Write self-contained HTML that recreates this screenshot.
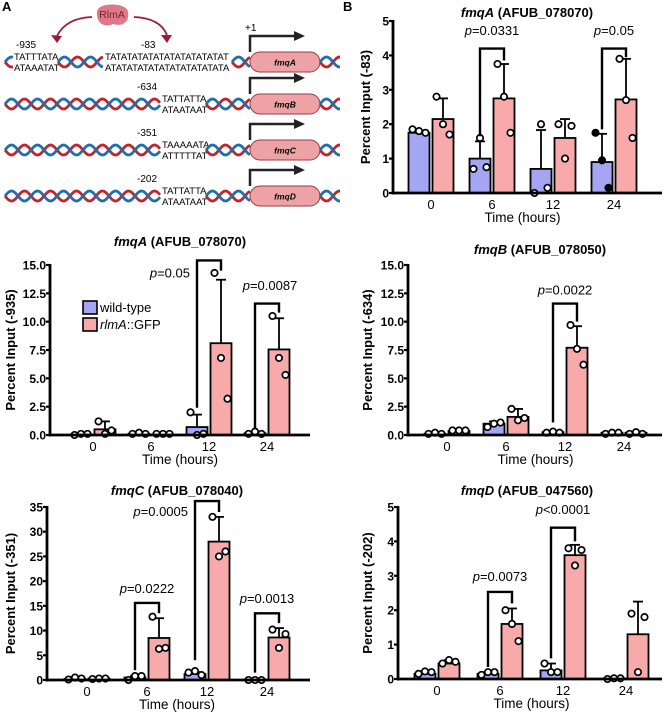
<!DOCTYPE html>
<html><head><meta charset="utf-8">
<style>
html,body{margin:0;padding:0;background:#fff;}
svg{display:block;font-family:"Liberation Sans",Arial,sans-serif;}
.tk{font-size:12px;font-weight:bold;}
.at{font-size:13px;font-weight:bold;}
.ttl{font-size:13px;font-weight:bold;}
.pv{font-size:13px;}
.seq{font-size:9.5px;}
</style></head>
<body>
<svg id="fig" width="667" height="718" viewBox="0 0 667 718">
<g id="panelA"></g>
<g id="charts"></g>
</svg>
<script>
// ---------- Chart data ----------
const categories = ["0","6","12","24"];

// B: fmqA -83
const b1WT = [1.75, 1.0, 0.7, 0.9];
const b1PK = [2.15, 2.75, 1.6, 2.72];
const b1WTErr = [1.78, 1.5, 1.83, 1.72];
const b1PKErr = [2.75, 3.75, 2.15, 3.9];
const b1WTPts = [[1.85,1.8,1.75],[0.7,1.6,0.75],[0.0,2.0,0.15],[1.75,0.95,0.15]];
const b1PKPts = [[2.8,2.0,1.7],[3.75,2.8,1.75],[2.0,1.0,1.95],[3.9,2.7,1.6]];
const b1Ticks = ["0","1","2","3","4","5"];

// A middle: fmqA -935
const a1WT = [0.05, 0.1, 0.7, 0.15];
const a1PK = [0.5, 0.05, 8.1, 7.55];
const a1WTErr = [0.1, 0.15, 1.8, 0.2];
const a1PKErr = [1.2, 0.1, 13.7, 10.3];
const a1WTPts = [[0.0,0.1,0.1],[0.1,0.2,0.1],[2.0,0.0,0.1],[0.1,0.3,0.1]];
const a1PKPts = [[1.2,0.1,0.4],[0.1,0.1,0.1],[14.3,6.8,3.2],[10.5,6.8,5.3]];
const a1Ticks = ["0.0","2.5","5.0","7.5","10.0","12.5","15.0"];

// B middle: fmqB -634
const b2WT = [0.1, 1.0, 0.25, 0.2];
const b2PK = [0.35, 1.6, 7.7, 0.2];
const b2WTErr = [0.15, 1.2, 0.3, 0.25];
const b2PKErr = [0.4, 2.3, 9.6, 0.25];
const b2WTPts = [[0.1,0.2,0.1],[0.7,1.0,1.1],[0.2,0.3,0.2],[0.1,0.2,0.2]];
const b2PKPts = [[0.4,0.4,0.4],[2.3,1.3,1.5],[9.7,7.6,6.2],[0.1,0.25,0.1]];
const b2Ticks = ["0.0","2.5","5.0","7.5","10.0","12.5","15.0"];

// C: fmqC -351
const cWT = [0.2, 0.5, 1.2, 0.1];
const cPK = [0.3, 8.5, 28, 8.6];
const cWTErr = [0.3, 0.8, 1.6, 0.1];
const cPKErr = [0.4, 12.5, 33, 10.5];
const cWTPts = [[0.1,0.5,0.3],[0.0,0.8,0.8],[1.5,1.8,1.0],[0.0,0.0,0.0]];
const cPKPts = [[0.2,0.3,0.3],[12.8,6.3,6.5],[33,25,26],[10.2,6.5,9.3]];
const cTicks = ["0","5","10","15","20","25","30","35"];

// D: fmqD -202
const dWT = [0.15, 0.15, 0.25, 0.02];
const dPK = [0.45, 1.6, 3.6, 1.3];
const dWTErr = [0.22, 0.2, 0.45, 0.03];
const dPKErr = [0.55, 2.05, 3.9, 2.25];
const dWTPts = [[0.15,0.22,0.2],[0.12,0.2,0.2],[0.45,0.2,0.2],[0.0,0.02,0.02]];
const dPKPts = [[0.45,0.55,0.5],[2.0,1.6,1.1],[3.8,3.3,3.75],[1.9,0.2,1.8]];
const dTicks = ["0","1","2","3","4","5"];

const NS = "http://www.w3.org/2000/svg";
function mk(tag, attrs, parent, text){
  const e = document.createElementNS(NS, tag);
  for (const k in attrs) e.setAttribute(k, attrs[k]);
  if (text !== undefined) e.textContent = text;
  parent.appendChild(e);
  return e;
}
const root = document.getElementById('charts');

function chart(cfg){
  const g = mk('g', {}, root);
  
  
  const ymax = cfg.ymax;
  const Y = v => cfg.y0 - (v / ymax) * (cfg.y0 - cfg.yTop);
  const X = i => cfg.x0 + i * cfg.step;
  const bw = cfg.bw;
  categories.forEach((c, i) => {
    const cx = X(i);
    [[cfg.wt, cfg.wtErr, cfg.wtPts, '#a4a6f4', -1, cfg.filled], [cfg.pk, cfg.pkErr, cfg.pkPts, '#f7aaa9', 1, null]].forEach(s => {
      const [vals, errs, pts, col, side, filled] = s;
      const bx = side < 0 ? cx - bw - 1.5 : cx + 1.5;
      const bcx = bx + bw / 2;
      const r = mk('rect', {x: bx, y: Y(vals[i]), width: bw, height: Math.max(0, cfg.y0 - Y(vals[i])), fill: col, stroke: '#000', 'stroke-width': 1.8}, g);
      
      
      const e1 = mk('line', {x1: bcx, x2: bcx, y1: Y(vals[i]), y2: Y(errs[i]), stroke: '#000', 'stroke-width': 1.8}, g);
      
      
      mk('line', {x1: bcx - 5, x2: bcx + 5, y1: Y(errs[i]), y2: Y(errs[i]), stroke: '#000', 'stroke-width': 1.8}, g);
      pts[i].forEach((p, k) => {
        const isF = filled && filled[i];
        const pt = mk('circle', {cx: bcx + (k - 1) * 6.5, cy: Y(p), r: 3.2, fill: isF ? '#000' : '#fff', stroke: '#000', 'stroke-width': 1.7}, g);
        
        
      });
    });
    const tl = mk('text', {x: cx, y: cfg.y0 + 16, 'text-anchor': 'middle', style: 'font-size:13px'}, g, c);
    
    
  });
  const ya = mk('line', {x1: cfg.yx, x2: cfg.yx, y1: cfg.yTop - 1, y2: cfg.y0 + 1.5, stroke: '#000', 'stroke-width': 2.8}, g);
  
  
  const xa = mk('line', {x1: cfg.yx - 1, x2: cfg.xEnd, y1: cfg.y0, y2: cfg.y0, stroke: '#000', 'stroke-width': 2.8}, g);
  
  
  cfg.ticks.forEach((t, k) => {
    const v = k * cfg.tstep;
    mk('line', {x1: cfg.yx - 4, x2: cfg.yx, y1: Y(v), y2: Y(v), stroke: '#000', 'stroke-width': 2.2}, g);
    const tt = mk('text', {x: cfg.yx - 4, y: Y(v) + 4.5, 'text-anchor': 'end', class: 'tk'}, g, t);
    
    
  });
  const cyT = (cfg.y0 + cfg.yTop) / 2;
  const yt = mk('text', {x: cfg.ytx, y: cyT, 'text-anchor': 'middle', class: 'at', transform: `rotate(-90 ${cfg.ytx} ${cyT})`}, g, cfg.ytitle);
  
  
  const xt = mk('text', {x: (X(0) + X(3)) / 2, y: cfg.y0 + 29, 'text-anchor': 'middle', style: 'font-size:13.5px'}, g, 'Time (hours)');
  
  
  const ti = mk('text', {x: cfg.tx, y: cfg.ty, 'text-anchor': 'middle', class: 'ttl'}, g);
  
  
  mk('tspan', {'font-style': 'italic'}, ti, cfg.gene);
  mk('tspan', {}, ti, ' ' + cfg.locus);
  cfg.brackets.forEach(b => {
    const lx = X(b.i) - bw / 2 - 1.5, rx = X(b.i) + bw / 2 + 1.5;
    const br = mk('polyline', {points: `${lx},${Y(b.l)} ${lx},${Y(b.top)} ${rx},${Y(b.top)} ${rx},${Y(b.r)}`, fill: 'none', stroke: '#000', 'stroke-width': 2.4}, g);
    
    
    const px = b.tx !== undefined ? b.tx : X(b.i);
    const pt = mk('text', {x: px, y: Y(b.ty), 'text-anchor': b.anchor || 'middle', class: 'pv'}, g);
    
    
    mk('tspan', {'font-style': 'italic'}, pt, 'p');
    mk('tspan', {}, pt, b.txt);
  });
  return g;
}

chart({name:'chart-fmqa-83', x0:431, step:61, bw:21, yx:393, y0:193, yTop:21, xEnd:662, ymax:5, tstep:1, ticks:b1Ticks,
  wt:b1WT, pk:b1PK, wtErr:b1WTErr, pkErr:b1PKErr, wtPts:b1WTPts, pkPts:b1PKPts, filled:[false,false,false,true],
  ytitle:'Percent Input (-83)', ytx:370, gene:'fmqA', locus:'(AFUB_078070)', tx:527, ty:17,
  brackets:[{i:1,top:4.2,l:1.65,r:3.85,ty:4.6,txt:'=0.0331'},{i:3,top:4.2,l:1.85,r:3.95,ty:4.6,txt:'=0.05'}]});

chart({name:'chart-fmqa-935', x0:93, step:58, bw:21, yx:50, y0:435, yTop:265, xEnd:310, ymax:15, tstep:2.5, ticks:a1Ticks,
  wt:a1WT, pk:a1PK, wtErr:a1WTErr, pkErr:a1PKErr, wtPts:a1WTPts, pkPts:a1PKPts,
  ytitle:'Percent Input (-935)', ytx:15, gene:'fmqA', locus:'(AFUB_078070)', tx:180, ty:246,
  brackets:[{i:2,top:15.4,l:2.4,r:14.5,ty:13.9,txt:'=0.05',tx:190,anchor:'end'},{i:3,top:11.6,l:0.5,r:10.8,ty:12.8,txt:'=0.0087',tx:270}]});

chart({name:'chart-fmqb-634', x0:447, step:59, bw:21, yx:408, y0:435, yTop:265, xEnd:662, ymax:15, tstep:2.5, ticks:b2Ticks,
  wt:b2WT, pk:b2PK, wtErr:b2WTErr, pkErr:b2PKErr, wtPts:b2WTPts, pkPts:b2PKPts,
  ytitle:'Percent Input (-634)', ytx:372, gene:'fmqB', locus:'(AFUB_078050)', tx:540, ty:254,
  brackets:[{i:2,top:11.6,l:1.1,r:10.0,ty:12.4,txt:'=0.0022'}]});

chart({name:'chart-fmqc-351', x0:87, step:60, bw:21, yx:47, y0:680, yTop:507, xEnd:310, ymax:35, tstep:5, ticks:cTicks,
  wt:cWT, pk:cPK, wtErr:cWTErr, pkErr:cPKErr, wtPts:cWTPts, pkPts:cPKPts,
  ytitle:'Percent Input (-351)', ytx:15, gene:'fmqC', locus:'(AFUB_078040)', tx:177, ty:495,
  brackets:[{i:1,top:15.6,l:2.0,r:13.5,ty:17.6,txt:'=0.0222'},{i:2,top:36.2,l:4.0,r:34,ty:33.2,txt:'=0.0005',tx:188,anchor:'end'},{i:3,top:13.5,l:1.5,r:11.5,ty:15.6,txt:'=0.0013'}]});

chart({name:'chart-fmqd-202', x0:437, step:63, bw:21, yx:398, y0:679, yTop:507, xEnd:662, ymax:5, tstep:1, ticks:dTicks,
  wt:dWT, pk:dPK, wtErr:dWTErr, pkErr:dPKErr, wtPts:dWTPts, pkPts:dPKPts,
  ytitle:'Percent Input (-202)', ytx:372, gene:'fmqD', locus:'(AFUB_047560)', tx:527, ty:495,
  brackets:[{i:1,top:2.53,l:0.35,r:2.2,ty:2.85,txt:'=0.0073'},{i:2,top:4.4,l:0.6,r:4.0,ty:4.8,txt:'<0.0001'}]});

(function(){
  const g = mk('g', {}, root);
  
  
  const l1 = mk('rect', {x:83, y:301, width:14, height:13, fill:'#a4a6f4', stroke:'#000', 'stroke-width':1.6}, g);
  
  
  mk('text', {x:100, y:312, style:'font-size:13px'}, g, 'wild-type');
  const l2 = mk('rect', {x:83, y:318, width:14, height:13, fill:'#f7aaa9', stroke:'#000', 'stroke-width':1.6}, g);
  
  
  const t = mk('text', {x:100, y:329, style:'font-size:13px'}, g);
  mk('tspan', {'font-style':'italic'}, t, 'rlmA');
  mk('tspan', {}, t, '::GFP');
})();

[['A',2,11],['B',343,11]].forEach(a => {
  const t = mk('text', {x:a[1], y:a[2], style:'font-size:13px;font-weight:bold'}, root, a[0]);
  
  
});

// ---------- Panel A diagram ----------
const A = document.getElementById('panelA');
function helix(x1, x2, yc){
  const amp = 5, half = 13;
  ['#c0252f', '#1f6fa8'].forEach((col, s) => {
    let d = '';
    for (let x = x1; x <= x2; x += 1) {
      const y = yc + amp * Math.sin((x - x1) / half * Math.PI + s * Math.PI);
      d += (x === x1 ? 'M' : 'L') + x + ',' + y.toFixed(2);
    }
    const p = mk('path', {d, fill:'none', stroke:col, 'stroke-width':2.8}, A);
    
    
  });
}
function seq(x, yc, top, bot, lbl, lx){
  mk('text', {x, y:yc - 2, class:'seq'}, A, top);
  mk('text', {x, y:yc + 9, class:'seq'}, A, bot);
  if (lbl) mk('text', {x:lx, y:yc - 14, style:'font-size:10px'}, A, lbl);
}
function gene(yc, name){
  const r = mk('rect', {x:250, y:yc - 10, width:70, height:20, rx:10, fill:'#eda3a6', stroke:'#9a3848', 'stroke-width':1}, A);
  
  
  mk('text', {x:285, y:yc + 3.5, 'text-anchor':'middle', style:'font-size:8.5px;font-style:italic;font-weight:bold'}, A, name);
  mk('path', {d:`M250,${yc-10} L250,${yc-26} L296,${yc-26}`, fill:'none', stroke:'#222', 'stroke-width':2.5}, A);
  mk('polygon', {points:`${294},${yc-31} ${305},${yc-26} ${294},${yc-21}`, fill:'#222'}, A);
}
const rows = [62, 104, 150, 196];
helix(5, 13, rows[0]);
seq(14, rows[0], 'TATTTATA', 'ATAAATAT', '-935', 16);
helix(58, 103, rows[0]);
seq(105, rows[0], 'TATATATATATATATATATATAT', 'ATATATATATATATATATATATA', '-83', 141);
helix(232, 250, rows[0]);
gene(rows[0], 'fmqA');
helix(320, 340, rows[0]);
mk('text', {x:245, y:31, style:'font-size:10px'}, A, '+1');
const rowSeqs = [['TATTATTA','ATAATAAT','-634','fmqB'],['TAAAAATA','ATTTTTAT','-351','fmqC'],['TATTATTA','ATAATAAT','-202','fmqD']];
rowSeqs.forEach((s, k) => {
  const yc = rows[k + 1];
  helix(5, 160, yc);
  seq(162, yc, s[0], s[1], s[2], 137);
  helix(206, 250, yc);
  gene(yc, s[3]);
  helix(320, 340, yc);
});
const blob = mk('path', {d:'M97,12 C97,2 127,2 128,12 C130,22 122,27 113,24 C106,28 96,24 97,12 Z', fill:'#de7a88'}, A);


mk('text', {x:112, y:18, 'text-anchor':'middle', style:'font-size:10.5px;fill:#7a1f34'}, A, 'RlmA');
mk('path', {d:'M92,17 Q66,18 57,36', fill:'none', stroke:'#9b1b3a', 'stroke-width':1.8}, A);
mk('polygon', {points:'51,35 57,43 62,36', fill:'#9b1b3a'}, A);
mk('path', {d:'M134,17 Q160,18 167,35', fill:'none', stroke:'#9b1b3a', 'stroke-width':1.8}, A);
mk('polygon', {points:'161,35 167,43 172,35', fill:'#9b1b3a'}, A);
</script>
</body></html>
